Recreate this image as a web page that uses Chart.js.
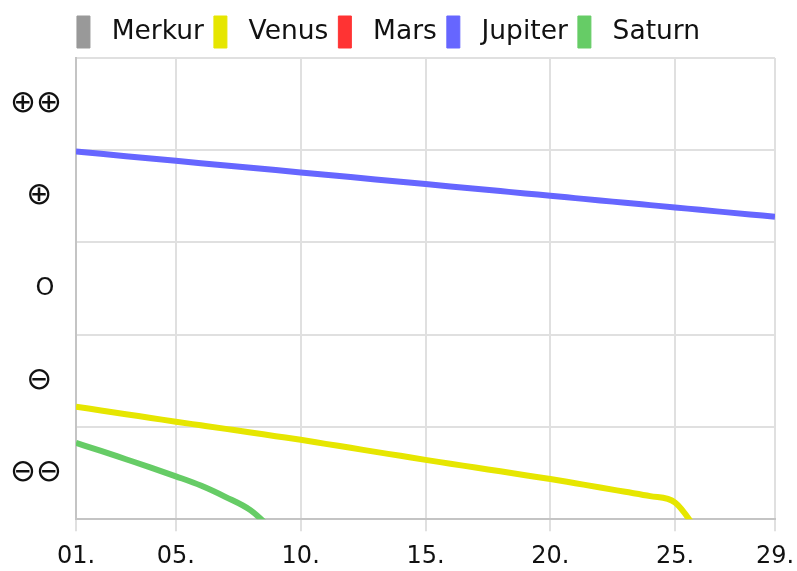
<!DOCTYPE html>
<html>
<head>
<meta charset="utf-8">
<script src="https://cdn.jsdelivr.net/npm/chart.js@4/dist/chart.umd.min.js"></script>
<style>
html,body{margin:0;padding:0;background:#fff;}
#wrap{width:797px;height:571px;}
</style>
</head>
<body>
<div id="wrap"><canvas id="c" width="797" height="571"></canvas></div>
<script>
// Data
const days = [1,2,3,4,5,6,7,8,9,10,11,12,13,14,15,16,17,18,19,20,21,22,23,24,25,26,27,28,29];
const seriesNames = ['Merkur','Venus','Mars','Jupiter','Saturn'];
const merkur = [];
const venus = [-1.280,-1.321,-1.362,-1.402,-1.443,-1.482,-1.521,-1.560,-1.600,-1.639,-1.683,-1.726,-1.770,-1.813,-1.857,-1.898,-1.940,-1.981,-2.023,-2.064,-2.110,-2.156,-2.203,-2.250,-2.320,-2.670];
const mars = [];
const jupiter = [1.487,1.462,1.436,1.411,1.386,1.360,1.335,1.310,1.285,1.259,1.234,1.209,1.183,1.158,1.133,1.107,1.082,1.057,1.032,1.006,0.981,0.956,0.930,0.905,0.880,0.854,0.829,0.804,0.779];
const saturn = [-1.672,-1.760,-1.850,-1.940,-2.035,-2.135,-2.260,-2.405,-2.650];
const xTickValues = [1,5,10,15,20,25,29];
const xTickLabels = ['01.','05.','10.','15.','20.','25.','29.'];
const yTickValues = [-2,-1,0,1,2];
const yTickLabels = ['⊖⊖','⊖','O','⊕','⊕⊕'];
const colors = ['#999999','#e6e600','#ff3333','#6666ff','#66cc66'];

function pts(arr){ return arr.map((v,i)=>({x:days[i], y:v})); }
const seriesData = [merkur, venus, mars, jupiter, saturn];

const FONT = 'DejaVu Sans';

const shiftLegend = {
  id: 'shiftLegend',
  afterLayout(chart) {
    const d = 5;
    if (chart.legend) { chart.legend.left -= d; chart.legend.right -= d; }
  }
};

new Chart(document.getElementById('c'), {
  type: 'line',
  data: {
    datasets: seriesNames.map((n,i)=>({
      label: n,
      data: pts(seriesData[i]),
      borderColor: colors[i],
      backgroundColor: colors[i],
      borderWidth: 6,
      pointRadius: 0,
      fill: false,
      cubicInterpolationMode: 'monotone'
    }))
  },
  plugins: [shiftLegend],
  options: {
    responsive: false,
    animation: false,
    layout: { padding: { top: 6, left: 12, right: 22, bottom: -11 } },
    plugins: {
      tooltip: { enabled: false },
      legend: {
        position: 'top',
        labels: {
          color: '#111',
          font: { family: FONT, size: 26.5 },
          boxWidth: 13,
          boxHeight: 32,
          padding: 10,
          generateLabels: (chart) => Chart.defaults.plugins.legend.labels.generateLabels(chart).map(l => Object.assign(l, { text: ' ' + l.text, lineWidth: 1, strokeStyle: l.fillStyle }))
        }
      }
    },
    scales: {
      x: {
        type: 'linear',
        min: 1, max: 29,
        afterBuildTicks: (axis) => { axis.ticks = xTickValues.map(v => ({ value: v })); },
        afterFit: (axis) => { axis.paddingLeft = 0; axis.paddingRight = 0; },
        ticks: {
          color: '#111',
          font: { family: FONT, size: 24 },
          padding: 11,
          maxRotation: 0,
          autoSkip: false,
          callback: (v) => { const k = xTickValues.indexOf(v); return k >= 0 ? xTickLabels[k] : ''; }
        },
        grid: { color: '#e0e0e0', lineWidth: 2, tickLength: 12 },
        border: { color: '#c4c4c4', width: 2 }
      },
      y: {
        min: -2.5, max: 2.5,
        afterFit: (axis) => { axis.width = 64; },
        ticks: {
          stepSize: 0.5,
          color: '#111',
          font: (ctx) => ({ family: FONT, size: (ctx.tick && ctx.tick.value === 0) ? 24 : 31 }),
          padding: 14,
          callback: (v) => {
            const k = yTickValues.indexOf(v);
            if (k < 0) return '';
            const s = yTickLabels[k];
            return s.length === 1 ? s + ' ' : s;
          }
        },
        grid: {
          drawTicks: false,
          lineWidth: 2,
          color: (ctx) => (ctx.tick && Number.isInteger(ctx.tick.value)) ? 'rgba(0,0,0,0)' : '#e0e0e0'
        },
        border: { color: '#c4c4c4', width: 2 }
      }
    }
  }
});
</script>
</body>
</html>
